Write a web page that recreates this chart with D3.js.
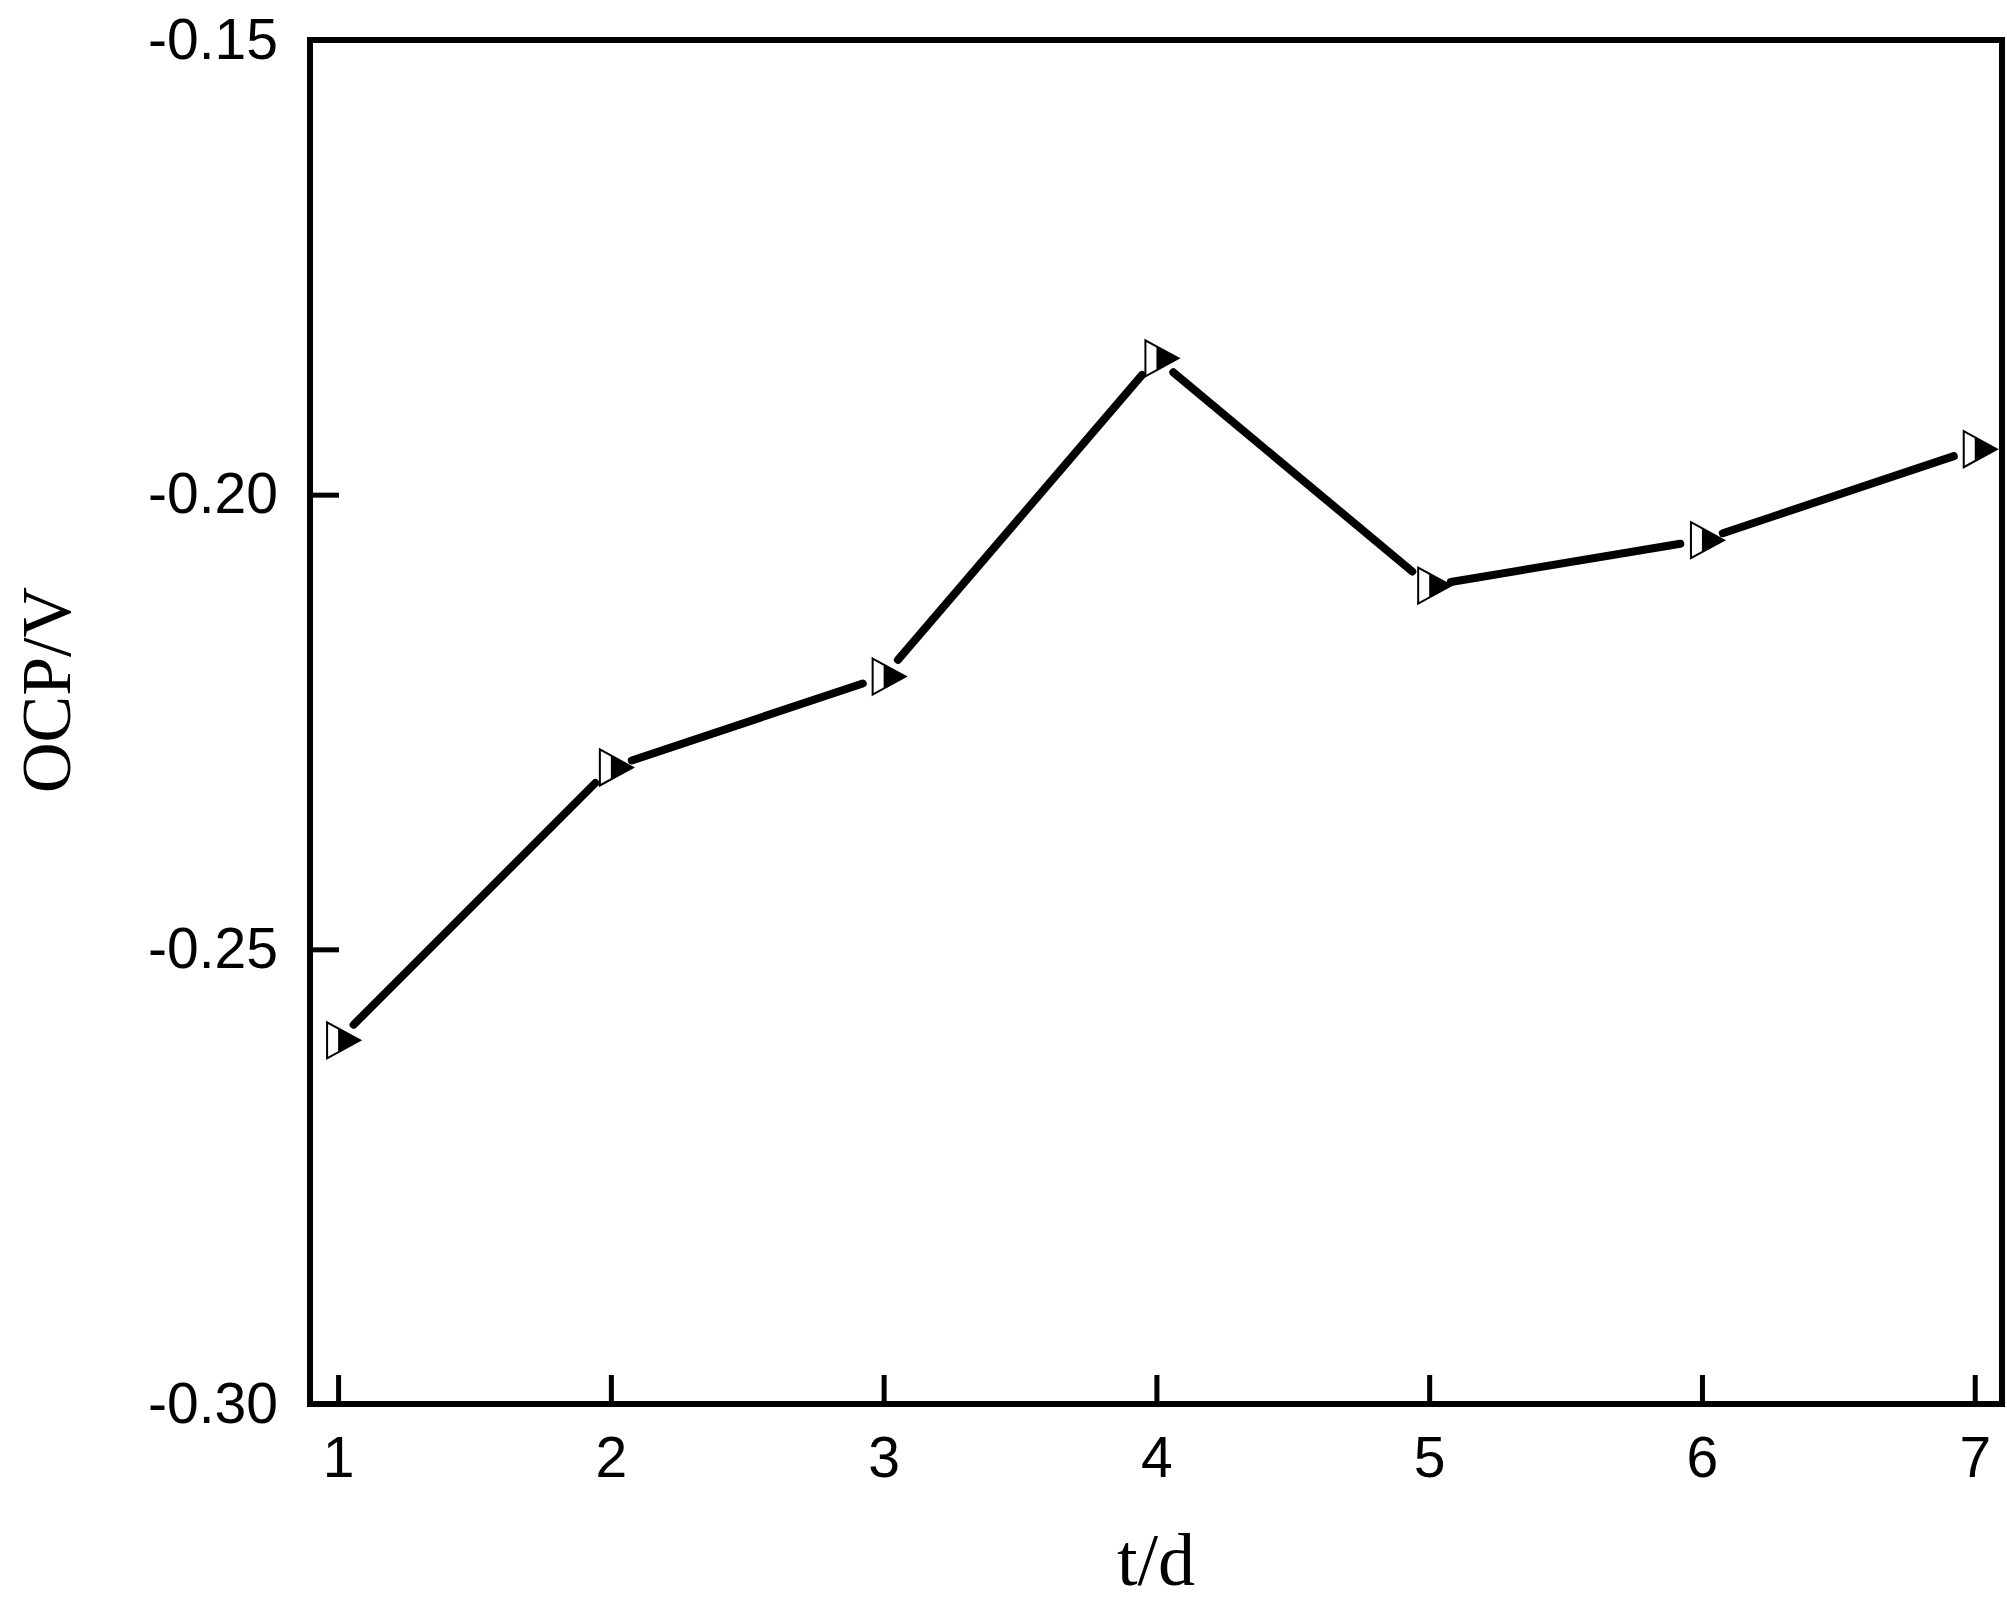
<!DOCTYPE html>
<html>
    <head>
        <meta charset="UTF-8">
        <title>OCP vs t</title>
        <script src="https://cdn.jsdelivr.net/npm/d3@7"></script>
        <style>
            body { margin: 0; background: #fff; }
        </style>
    </head>
    <body>
        <div id="chart"></div>
    <script>
    // data
    var days = [1, 2, 3, 4, 5, 6, 7];
    var ocp = [-0.260, -0.230, -0.220, -0.185, -0.210, -0.205, -0.195];
    var xTicks = [1, 2, 3, 4, 5, 6, 7];
    var yTicks = [-0.30, -0.25, -0.20, -0.15];

    var W = 2007, H = 1608;
    var margin = {top: 40, right: 5, bottom: 204, left: 310};
    var width = W - margin.left - margin.right,
        height = H - margin.top - margin.bottom;

    var svg = d3.select("#chart")
        .append("svg")
        .attr("width", W)
        .attr("height", H);

    var g = svg.append("g")
        .attr("transform", "translate(" + margin.left + "," + margin.top + ")");

    var x = d3.scaleLinear().domain([0.897, 7.1]).range([0, width]);
    var y = d3.scaleLinear().domain([-0.30, -0.15]).range([height, 0]);

    // axes with inward ticks
    var xAxis = g.append("g")
        .attr("transform", "translate(0," + height + ")")
        .call(d3.axisBottom(x).tickValues(xTicks).tickSizeInner(-29).tickSizeOuter(0).tickPadding(33)
            .tickFormat(d3.format("d")));
    var yAxis = g.append("g")
        .call(d3.axisLeft(y).tickValues(yTicks).tickSizeInner(-29).tickSizeOuter(0).tickPadding(32)
            .tickFormat(function(d) { return d.toFixed(2); }));

    [xAxis, yAxis].forEach(function(a) {
        a.select(".domain").remove();
        a.selectAll("line").attr("stroke", "#000").attr("stroke-width", 5);
        a.selectAll("text")
            .attr("fill", "#000")
            .style("font-family", "'Liberation Sans', Arial, sans-serif")
            .style("font-size", "57px");
    });

    // frame
    g.append("rect")
        .attr("x", 0).attr("y", 0)
        .attr("width", width).attr("height", height)
        .attr("fill", "none")
        .attr("stroke", "#000")
        .attr("stroke-width", 6);

    // line segments, with a gap around each symbol
    var gap = 22;
    var pts = days.map(function(d, i) { return [x(d), y(ocp[i])]; });
    for (var i = 0; i < pts.length - 1; i++) {
        var a = pts[i], b = pts[i + 1];
        var dx = b[0] - a[0], dy = b[1] - a[1];
        var len = Math.sqrt(dx * dx + dy * dy);
        var ux = dx / len, uy = dy / len;
        g.append("line")
            .attr("x1", a[0] + ux * gap).attr("y1", a[1] + uy * gap)
            .attr("x2", b[0] - ux * gap).attr("y2", b[1] - uy * gap)
            .attr("stroke", "#000")
            .attr("stroke-width", 8)
            .attr("stroke-linecap", "round");
    }

    // half filled right-pointing triangles
    var marks = g.append("g").selectAll("g.mark")
        .data(pts)
        .enter()
        .append("g")
        .attr("class", "mark")
        .attr("transform", function(p) { return "translate(" + p[0] + "," + p[1] + ")"; });

    marks.append("path")
        .attr("d", "M-11,-18L22,0L-11,18Z")
        .attr("fill", "#fff")
        .attr("stroke", "#000")
        .attr("stroke-width", 2)
        .attr("stroke-linejoin", "miter");
    marks.append("path")
        .attr("d", "M0,-12L22,0L0,12Z")
        .attr("fill", "#000");

    // axis titles
    svg.append("text")
        .attr("x", margin.left + width / 2)
        .attr("y", 1585)
        .attr("text-anchor", "middle")
        .style("font-family", "'Liberation Serif', 'Times New Roman', serif")
        .style("font-size", "74px")
        .text("t/d");

    svg.append("text")
        .attr("transform", "translate(70,690) rotate(-90)")
        .attr("text-anchor", "middle")
        .style("font-family", "'Liberation Serif', 'Times New Roman', serif")
        .style("font-size", "70px")
        .text("OCP/V");
    </script>
    </body>
</html>
